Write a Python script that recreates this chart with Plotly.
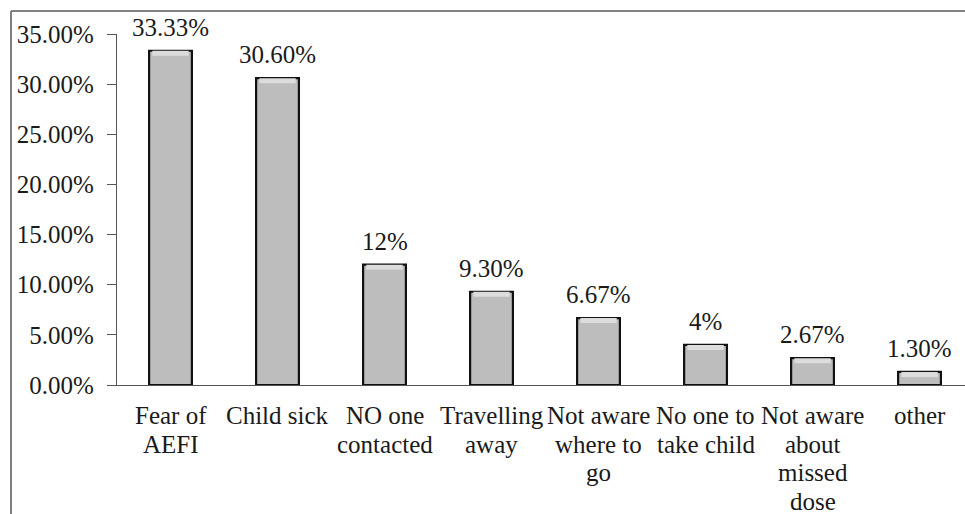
import plotly.graph_objects as go

# Reasons for missed vaccination
categories = [
    "Fear of<br>AEFI",
    "Child sick",
    "NO one<br>contacted",
    "Travelling<br>away",
    "Not aware<br>where to<br>go",
    "No one to<br>take child",
    "Not aware<br>about<br>missed<br>dose",
    "other",
]
values = [33.33, 30.60, 12, 9.30, 6.67, 4, 2.67, 1.30]
value_labels = ["33.33%", "30.60%", "12%", "9.30%", "6.67%", "4%", "2.67%", "1.30%"]
y_ticks = [0, 5, 10, 15, 20, 25, 30, 35]
y_tick_labels = ["0.00%", "5.00%", "10.00%", "15.00%", "20.00%", "25.00%", "30.00%", "35.00%"]

FONT = "Liberation Serif"
TEXT = "#1a1a1a"
FS = 25
LINE_STEP = 28.5   # px between category label lines
BEVEL = 0.5        # depth of the top highlight, in axis units

xs = list(range(len(categories)))

fig = go.Figure()
fig.add_trace(go.Bar(
    x=xs, y=values, width=0.40,
    marker=dict(color="#bdbdbd", line=dict(color="#111111", width=2.2)),
    showlegend=False, hoverinfo="skip",
))
# light bevel along the top of each bar
fig.add_trace(go.Bar(
    x=xs, y=[BEVEL] * len(values), base=[v - BEVEL for v in values], width=0.34,
    marker=dict(color="#dcdcdc", line=dict(width=0)),
    showlegend=False, hoverinfo="skip",
))

# value labels above bars
for i, (v, lab) in enumerate(zip(values, value_labels)):
    fig.add_annotation(
        x=i, y=v, text=lab, showarrow=False,
        xref="x", yref="y", yanchor="bottom", yshift=8,
        font=dict(family=FONT, size=FS, color=TEXT),
    )

# category labels below the axis, one line at a time
for i, cat in enumerate(categories):
    for k, line in enumerate(cat.split("<br>")):
        fig.add_annotation(
            x=i, y=0, text=line, showarrow=False,
            xref="x", yref="y", yanchor="top", yshift=-15 - k * LINE_STEP,
            font=dict(family=FONT, size=FS, color=TEXT),
        )

# outer frame (top and left edges)
fig.add_shape(type="line", xref="paper", yref="paper",
              x0=-106 / 848, x1=1.0, y0=1 + 23 / 351, y1=1 + 23 / 351,
              line=dict(color="#808080", width=2))
fig.add_shape(type="line", xref="paper", yref="paper",
              x0=-106 / 848, x1=-106 / 848, y0=1 + 23 / 351, y1=-129 / 351,
              line=dict(color="#808080", width=2))

fig.update_layout(
    width=965, height=514,
    margin=dict(l=117, r=0, t=34, b=129, pad=0),
    paper_bgcolor="white", plot_bgcolor="white",
    font=dict(family=FONT, size=FS, color=TEXT),
    barmode="overlay",
    xaxis=dict(
        range=[-0.5, 7.425],
        showticklabels=False,
        showline=True, linecolor="#555555", linewidth=1.3,
        ticks="", showgrid=False, zeroline=False,
    ),
    yaxis=dict(
        range=[0, 35],
        tickmode="array", tickvals=y_ticks, ticktext=y_tick_labels,
        showline=True, linecolor="#555555", linewidth=1.3,
        ticks="outside", ticklen=9, tickcolor="#555555", tickwidth=1.3,
        showgrid=False, zeroline=False,
        ticklabelstandoff=8,
        tickfont=dict(family=FONT, size=FS, color=TEXT),
    ),
)

fig.write_html("out.html")
